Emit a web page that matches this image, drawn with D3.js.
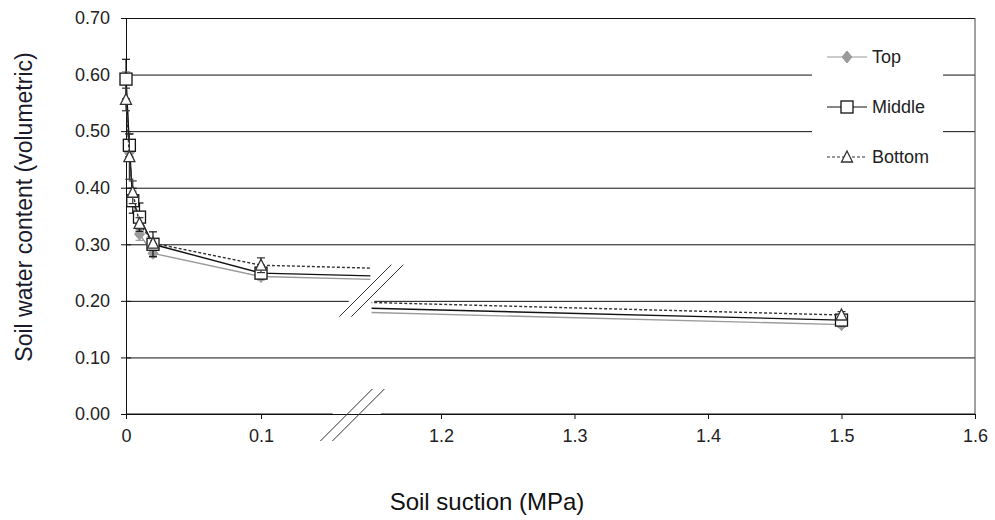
<!DOCTYPE html>
<html>
<head>
<meta charset="utf-8">
<script src="https://cdn.jsdelivr.net/npm/d3@7"></script>
<style>
  body { margin: 0; background: #fff; }
  svg { font-family: "Liberation Sans", Arial, sans-serif; }
  .axis text { font-size: 18px; fill: #222; }
</style>
</head>
<body>
<div id="chart"></div>
<script>
// soil suction (MPa) and water content (volumetric) per depth
const suction = [0, 0.0025, 0.005, 0.01, 0.02, 0.1, 1.5];
const topVals = [0.595, 0.462, 0.382, 0.318, 0.284, 0.243, 0.158];
const topErr = [0.010, 0.010, 0.012, 0.011, 0.006, 0.006, 0.005];
const middleVals = [0.592, 0.475, 0.377, 0.348, 0.300, 0.249, 0.166];
const middleErr = [0.035, 0.020, 0.022, 0.025, 0.022, 0.008, 0.006];
const bottomVals = [0.556, 0.455, 0.392, 0.337, 0.302, 0.263, 0.175];
const bottomErr = [0.020, 0.040, 0.020, 0.010, 0.008, 0.013, 0.006];
const yTicks = [0, 0.1, 0.2, 0.3, 0.4, 0.5, 0.6, 0.7];
const xTicksLeft = [0, 0.1];
const xTicksRight = [1.2, 1.3, 1.4, 1.5, 1.6];
const seriesNames = ['Top', 'Middle', 'Bottom'];

const margin = {top: 18, left: 126};
const width = 849, height = 396;

const svg = d3.select('#chart').append('svg')
  .attr('width', 995).attr('height', 520);
const g = svg.append('g')
  .attr('transform', `translate(${margin.left},${margin.top})`);

const y = d3.scaleLinear().domain([0, 0.7]).range([height, 0]);
// broken x axis: two pieces with the same scale factor
const xLeft = d3.scaleLinear().domain([0, 0.1]).range([0, 135]);
const xRight = d3.scaleLinear().domain([1.2, 1.6]).range([315, width]);
const leftEnd = xLeft(0.181), rightStart = xRight(1.148);
const xOf = v => v < 1 ? xLeft(v) : xRight(v);

// gridlines
g.append('g')
  .call(d3.axisLeft(y).tickValues(yTicks).tickSize(-width).tickFormat(''))
  .call(s => s.select('.domain').remove())
  .selectAll('line').attr('stroke', '#111').attr('stroke-width', 1);

// right border
g.append('line').attr('x1', width).attr('x2', width)
  .attr('y1', 0).attr('y2', height).attr('stroke', '#444');

// y axis
const yAxis = g.append('g').attr('class', 'axis')
  .call(d3.axisLeft(y).tickValues(yTicks).tickSize(5).tickPadding(11)
    .tickFormat(d3.format('.2f')));
yAxis.select('.domain').attr('stroke', '#111');
yAxis.selectAll('.tick line').attr('x2', 5).attr('x1', -5).attr('stroke', '#111');

// legend background covers the gridlines
g.append('rect').attr('x', 686).attr('y', 22).attr('width', 131).attr('height', 140)
  .attr('fill', '#fff');

// cut in the 0.20 gridline and the x axis
const cutTop = xLeft(0.165), cutTopEnd = xRight(1.150);
g.append('rect').attr('x', cutTop).attr('y', y(0.2) - 2)
  .attr('width', cutTopEnd - cutTop).attr('height', 4).attr('fill', '#fff');

// x axis
const axisCut = xLeft(0.153), axisResume = xRight(1.155);
g.append('line').attr('x1', 0).attr('x2', axisCut)
  .attr('y1', height).attr('y2', height).attr('stroke', '#111');
g.append('line').attr('x1', axisResume).attr('x2', width)
  .attr('y1', height).attr('y2', height).attr('stroke', '#111');
[[xLeft, xTicksLeft], [xRight, xTicksRight]].forEach(([sc, ticks]) => {
  g.append('g').attr('class', 'axis')
    .attr('transform', `translate(0,${height})`)
    .call(d3.axisBottom(sc).tickValues(ticks).tickSize(5).tickPadding(10)
      .tickFormat(d3.format('')))
    .call(s => s.select('.domain').remove())
    .selectAll('.tick line').attr('stroke', '#111');
});

// break marks
function slashes(x0, y0) {
  [0, 12].forEach(dx => {
    g.append('line')
      .attr('x1', x0 + dx).attr('y1', y0)
      .attr('x2', x0 + dx + 52).attr('y2', y0 - 52)
      .attr('stroke', '#333').attr('stroke-width', 1);
  });
}
slashes(xLeft(0.158), y(0.172));
slashes(xLeft(0.144), height + 27);

// series
const series = [
  {name: seriesNames[0], vals: topVals, err: topErr, color: '#9a9a9a', dash: null, marker: 'diamond'},
  {name: seriesNames[1], vals: middleVals, err: middleErr, color: '#111', dash: null, marker: 'square'},
  {name: seriesNames[2], vals: bottomVals, err: bottomErr, color: '#333', dash: '3,2', marker: 'triangle'}
];

const defs = svg.append('defs');
defs.append('clipPath').attr('id', 'clipL').append('rect')
  .attr('x', -10).attr('y', -20).attr('width', leftEnd + 10).attr('height', height + 40);
defs.append('clipPath').attr('id', 'clipR').append('rect')
  .attr('x', rightStart).attr('y', -20).attr('width', width - rightStart).attr('height', height + 40);

function drawMarker(sel, type, color) {
  if (type === 'diamond') {
    sel.append('path').attr('d', 'M0,-6L5,0L0,6L-5,0Z').attr('fill', color).attr('stroke', color);
  } else if (type === 'square') {
    sel.append('rect').attr('x', -6).attr('y', -6).attr('width', 12).attr('height', 12)
      .attr('fill', '#fff').attr('stroke', color).attr('stroke-width', 1.3);
  } else {
    sel.append('path').attr('d', 'M0,-6L5.5,5L-5.5,5Z')
      .attr('fill', '#fff').attr('stroke', color).attr('stroke-width', 1.3);
  }
}

series.forEach(s => {
  const pts = suction.map((x, i) => ({x, v: s.vals[i], e: s.err[i]}));
  [[xLeft, 'clipL'], [xRight, 'clipR']].forEach(([sc, clip]) => {
    g.append('path').datum(pts)
      .attr('clip-path', `url(#${clip})`)
      .attr('fill', 'none').attr('stroke', s.color).attr('stroke-width', 1.4)
      .attr('stroke-dasharray', s.dash)
      .attr('d', d3.line().x(d => sc(d.x)).y(d => y(d.v)));
  });
  pts.forEach(d => {
    const cx = xOf(d.x);
    const eb = g.append('g').attr('stroke', s.color).attr('stroke-width', 1.2);
    eb.append('line').attr('x1', cx).attr('x2', cx).attr('y1', y(d.v - d.e)).attr('y2', y(d.v + d.e));
    [d.v - d.e, d.v + d.e].forEach(v => {
      eb.append('line').attr('x1', cx - 4).attr('x2', cx + 4).attr('y1', y(v)).attr('y2', y(v));
    });
  });
  pts.forEach(d => {
    const m = g.append('g').attr('transform', `translate(${xOf(d.x)},${y(d.v)})`);
    drawMarker(m, s.marker, s.color);
  });
});

// legend
const legend = g.append('g').attr('transform', 'translate(701,39)');
series.forEach((s, i) => {
  const row = legend.append('g').attr('transform', `translate(0,${i * 50})`);
  row.append('line').attr('x1', 0).attr('x2', 40)
    .attr('stroke', s.color).attr('stroke-width', 1.2).attr('stroke-dasharray', s.dash);
  drawMarker(row.append('g').attr('transform', 'translate(20,0)'), s.marker, s.color);
  row.append('text').attr('x', 45).attr('y', 6).attr('font-size', 18).attr('fill', '#222')
    .text(s.name);
});

// axis titles
svg.append('text')
  .attr('transform', `translate(32,${margin.top + 189}) rotate(-90)`)
  .attr('text-anchor', 'middle').attr('font-size', 23).attr('fill', '#1a1a2a')
  .text('Soil water content (volumetric)');
svg.append('text')
  .attr('x', 487).attr('y', 510)
  .attr('text-anchor', 'middle').attr('font-size', 24).attr('fill', '#111')
  .text('Soil suction (MPa)');
</script>
</body>
</html>
